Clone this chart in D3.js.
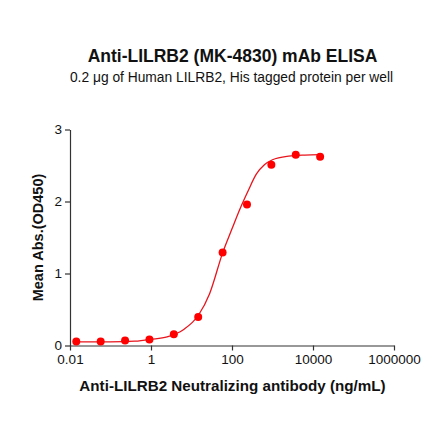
<!DOCTYPE html>
<html>
<head>
<meta charset="utf-8">
<script src="https://cdn.jsdelivr.net/npm/d3@7"></script>
<style>
  body { margin: 0; background: #fff; }
  text { font-family: "Liberation Sans", Arial, sans-serif; fill: #111; }
</style>
</head>
<body>
<div id="wrapper"></div>
<script>
// measured points (concentration in ng/mL, OD450)
const concentrations = [0.0143, 0.0572, 0.229, 0.916, 3.66, 14.65, 58.6, 234.4, 937.5, 3750, 15000]
const meanAbs = [0.055, 0.055, 0.07, 0.083, 0.157, 0.397, 1.29, 1.96, 2.51, 2.65, 2.62]

// fitted curve
const fitX = [0.0143, 0.1, 0.4, 1, 2.5, 6.3, 14.8, 28, 59, 100, 158, 251, 398, 631, 1000, 2500, 6300, 15000]
const fitY = [0.05, 0.05, 0.06, 0.085, 0.12, 0.22, 0.42, 0.72, 1.29, 1.62, 1.9, 2.15, 2.38, 2.51, 2.58, 2.63, 2.645, 2.65]

const xTicks = [0.01, 1, 100, 10000, 1000000]
const xTickLabels = ["0.01", "1", "100", "10000", "1000000"]
const yTicks = [0, 1, 2, 3]

const title = "Anti-LILRB2 (MK-4830) mAb ELISA"
const subtitle = "0.2 \u03bcg of Human LILRB2, His tagged protein per well"
const xLabel = "Anti-LILRB2 Neutralizing antibody (ng/mL)"
const yLabel = "Mean Abs.(OD450)"

const dimensions = {
  width: 440,
  height: 441,
  margin: { top: 129.5, right: 46, bottom: 95.5, left: 70 },
}
dimensions.boundedWidth = dimensions.width - dimensions.margin.left - dimensions.margin.right
dimensions.boundedHeight = dimensions.height - dimensions.margin.top - dimensions.margin.bottom

const svg = d3.select("#wrapper")
  .append("svg")
    .attr("width", dimensions.width)
    .attr("height", dimensions.height)

const bounds = svg.append("g")
  .attr("transform", `translate(${dimensions.margin.left}, ${dimensions.margin.top})`)

// scales
const xScale = d3.scaleLog()
  .domain([0.01, 1000000])
  .range([0, dimensions.boundedWidth])

const yScale = d3.scaleLinear()
  .domain([0, 3])
  .range([dimensions.boundedHeight, 0])

// axes
const xAxis = bounds.append("g")
  .attr("transform", `translate(0, ${dimensions.boundedHeight})`)
  .call(d3.axisBottom(xScale)
    .tickValues(xTicks)
    .tickFormat((d, i) => xTickLabels[i])
    .tickSize(5)
    .tickSizeOuter(0)
    .tickPadding(4))
xAxis.select(".domain").attr("stroke", "#333").attr("stroke-width", 1.2)
xAxis.selectAll(".tick line").attr("stroke", "#333").attr("stroke-width", 1.2)
xAxis.selectAll(".tick text")
  .style("font-size", "13.5px")
  .style("font-family", "'Liberation Sans', Arial, sans-serif")
  .attr("fill", "#111")

const yAxis = bounds.append("g")
  .call(d3.axisLeft(yScale)
    .tickValues(yTicks)
    .tickFormat(d3.format("d"))
    .tickSize(5)
    .tickSizeOuter(0)
    .tickPadding(3))
yAxis.select(".domain").attr("stroke", "#333").attr("stroke-width", 1.2)
yAxis.selectAll(".tick line").attr("stroke", "#333").attr("stroke-width", 1.2)
yAxis.selectAll(".tick text")
  .style("font-size", "13.5px")
  .style("font-family", "'Liberation Sans', Arial, sans-serif")
  .attr("fill", "#111")

// fit line
const lineGenerator = d3.line()
  .x(d => xScale(d[0]))
  .y(d => yScale(d[1]))
  .curve(d3.curveMonotoneX)

bounds.append("path")
  .datum(d3.zip(fitX, fitY))
  .attr("d", lineGenerator)
  .attr("fill", "none")
  .attr("stroke", "#e8141c")
  .attr("stroke-width", 1.3)

// points
bounds.selectAll(".dot")
  .data(d3.zip(concentrations, meanAbs))
  .enter().append("circle")
    .attr("class", "dot")
    .attr("cx", d => xScale(d[0]))
    .attr("cy", d => yScale(d[1]))
    .attr("r", 4)
    .attr("fill", "#ff0000")

// titles
svg.append("text")
  .attr("x", 232.5)
  .attr("y", 62)
  .attr("text-anchor", "middle")
  .style("font-size", "17.5px")
  .style("font-weight", "bold")
  .text(title)

svg.append("text")
  .attr("x", 231.5)
  .attr("y", 82)
  .attr("text-anchor", "middle")
  .style("font-size", "13.8px")
  .text(subtitle)

svg.append("text")
  .attr("x", 232.5)
  .attr("y", 391)
  .attr("text-anchor", "middle")
  .style("font-size", "15.2px")
  .style("font-weight", "bold")
  .text(xLabel)

svg.append("text")
  .attr("transform", "translate(43, 237.5) rotate(-90)")
  .attr("text-anchor", "middle")
  .style("font-size", "14.5px")
  .style("font-weight", "bold")
  .text(yLabel)
</script>
</body>
</html>
